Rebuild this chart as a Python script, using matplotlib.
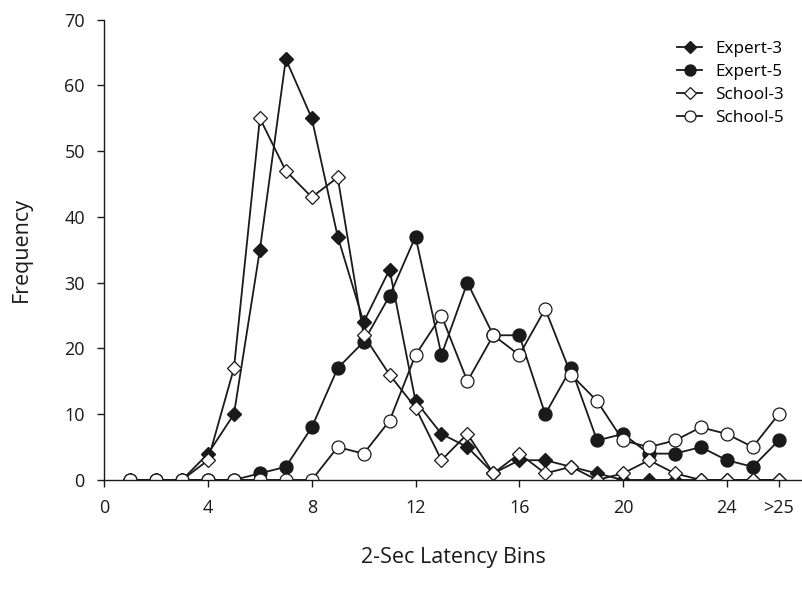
import matplotlib
matplotlib.use("Agg")
import matplotlib.pyplot as plt

# latency bins 1..25, then ">25" plotted at 26
bins = list(range(1, 27))

expert3 = [0, 0, 0, 4, 10, 35, 64, 55, 37, 24, 32, 12, 7, 5, 1, 3, 3, 2, 1, 0, 0, 0, 0, 0, 0, 0]
expert5 = [0, 0, 0, 0, 0, 1, 2, 8, 17, 21, 28, 37, 19, 30, 22, 22, 10, 17, 6, 7, 4, 4, 5, 3, 2, 6]
school3 = [0, 0, 0, 3, 17, 55, 47, 43, 46, 22, 16, 11, 3, 7, 1, 4, 1, 2, 0, 1, 3, 1, 0, 0, 0, 0]
school5 = [0, 0, 0, 0, 0, 0, 0, 0, 5, 4, 9, 19, 25, 15, 22, 19, 26, 16, 12, 6, 5, 6, 8, 7, 5, 10]

xticks = [0, 4, 8, 12, 16, 20, 24, 26]
xticklabels = ["0", "4", "8", "12", "16", "20", "24", ">25"]
yticks = [0, 10, 20, 30, 40, 50, 60, 70]

plt.rcParams['font.family'] = ['Open Sans', 'DejaVu Sans']
ink = '#1a1a1a'

fig = plt.figure(figsize=(8.02, 5.94), dpi=100)
ax = fig.add_axes([0.130, 0.192, 0.870, 0.775])

ax.plot(bins, expert3, color=ink, lw=1.3, marker='D', ms=7.0, mfc=ink, mec=ink, label='Expert-3')
ax.plot(bins, expert5, color=ink, lw=1.3, marker='o', ms=9.3, mfc=ink, mec=ink, label='Expert-5')
ax.plot(bins, school3, color=ink, lw=1.3, marker='D', ms=7.0, mfc='white', mec=ink, mew=0.9, label='School-3')
ax.plot(bins, school5, color=ink, lw=1.3, marker='o', ms=9.3, mfc='white', mec=ink, mew=0.9, label='School-5')

ax.set_xlim(0, 26.9)
ax.set_ylim(0, 70)
ax.set_xticks(xticks)
ax.set_xticklabels(xticklabels)
ax.set_yticks(yticks)

for s in ['top', 'right']:
    ax.spines[s].set_visible(False)
for s in ['left', 'bottom']:
    ax.spines[s].set_linewidth(1.0)
    ax.spines[s].set_color(ink)
ax.tick_params(direction='out', length=5, width=1.0, colors=ink, labelsize=13)
ax.tick_params(axis='x', pad=9)
ax.tick_params(axis='y', pad=9)

ax.set_xlabel('2-Sec Latency Bins', fontsize=15.5, color=ink)
ax.set_ylabel('Frequency', fontsize=15.5, color=ink)
ax.xaxis.set_label_coords(0.5, -0.145)
ax.yaxis.set_label_coords(-0.104, 0.5)

ax.legend(loc='upper left', bbox_to_anchor=(0.8115, 0.969), frameon=False,
          fontsize=12.3, handlelength=1.45, handletextpad=0.75,
          labelspacing=0.42, markerscale=0.85, borderaxespad=0)

fig.savefig('out.png', dpi=100)
